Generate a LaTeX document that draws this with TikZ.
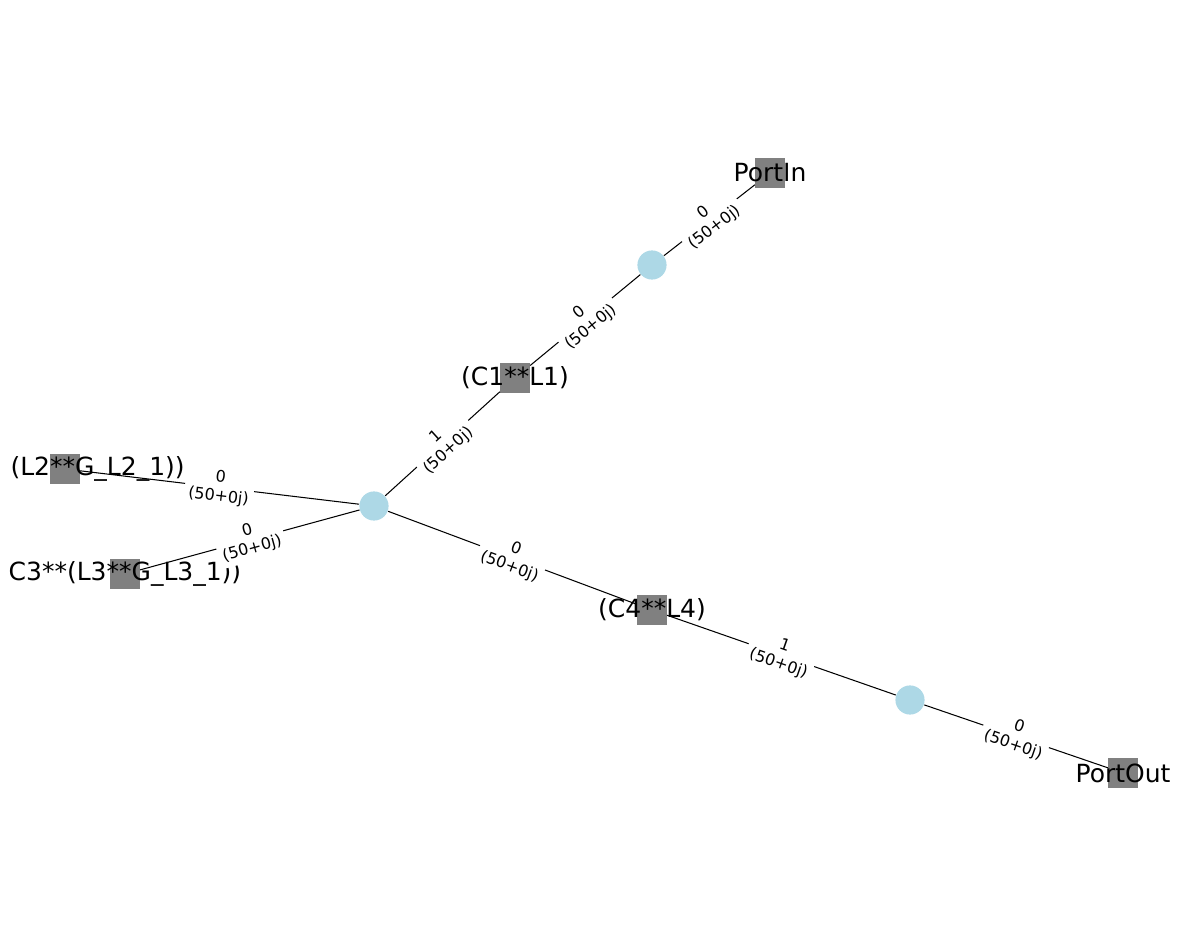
\documentclass[tikz,border=0pt]{standalone}
\usepackage{fontspec}
\setmainfont{DejaVu Sans}
\tikzset{
  lab/.style={font=\fontsize{18}{21}\selectfont,inner sep=0pt},
  sq/.style={draw=none,fill=gray,minimum size=21pt,inner sep=0pt,shape=rectangle,
    label={[lab]center:#1}},
  dot/.style={fill={rgb,255:red,173;green,216;blue,230},shape=circle,minimum size=21pt,inner sep=0pt},
  elab/.style={midway,sloped,fill=white,rounded corners=2pt,inner sep=3pt,align=center,
    font=\fontsize{11.5}{13.6}\selectfont}
}
\begin{document}
\begin{tikzpicture}[x=0.72pt,y=-0.72pt,line width=0.75pt]
\useasboundingbox (0,0) rectangle (1187,947);
\node at (770,173) [sq=PortIn](PortIn){};
\node at (652,265) [dot](N1){};
\node at (515,378) [sq=(C1**L1)](C1L1){};
\node at (374,506) [dot](N2){};
\node at (65,469) [sq=,label={[lab,xshift=23.5pt]center:(L2**G\_L2\_1))}](L2G){};
\node at (125,574) [sq=C3**(L3**G\_L3\_1))](C3L3){};
\node at (652,610) [sq=(C4**L4)](C4L4){};
\node at (910,700) [dot](N3){};
\node at (1123,773) [sq=PortOut](PortOut){};
\draw (PortIn) -- (N1) node[elab]{0\\(50+0j)};
\draw (N1) -- (C1L1) node[elab]{0\\(50+0j)};
\draw (C1L1) -- (N2) node[elab]{1\\(50+0j)};
\draw (L2G) -- (N2) node[elab]{0\\(50+0j)};
\draw (C3L3) -- (N2) node[elab]{0\\(50+0j)};
\draw (N2) -- (C4L4) node[elab]{0\\(50+0j)};
\draw (C4L4) -- (N3) node[elab]{1\\(50+0j)};
\draw (N3) -- (PortOut) node[elab]{0\\(50+0j)};
\end{tikzpicture}
\end{document}
